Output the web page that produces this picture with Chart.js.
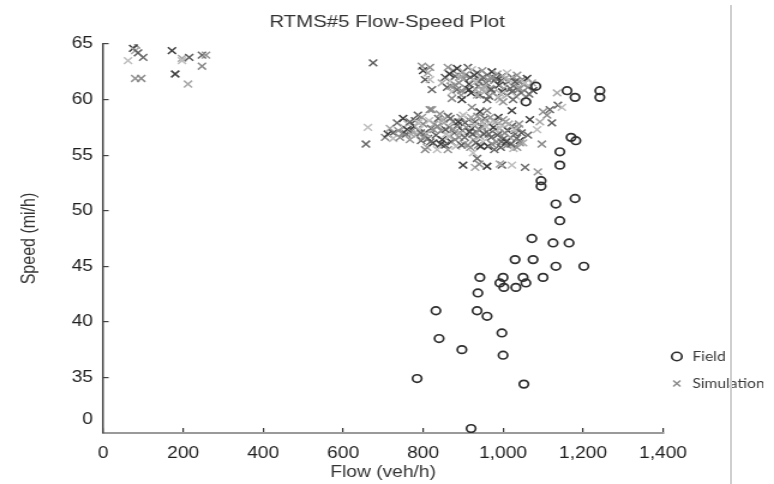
<!DOCTYPE html>
<html lang="en">
<head>
<meta charset="UTF-8">
<title>RTMS#5 Flow-Speed Plot</title>
<script src="https://cdn.jsdelivr.net/npm/chart.js"></script>
<style>
  body { margin: 0; background: #fff; }
  #wrap { position: relative; width: 774px; height: 484px; }
  #edge { position: absolute; left: 730px; top: 5px; width: 2px; height: 479px; background: #cfcfcf; }
</style>
</head>
<body>
<div id="wrap">
  <!-- the original figure is stretched sideways, so the bitmap is drawn narrower and scaled up -->
  <canvas id="flowSpeed" width="645" height="484" style="width:774px;height:484px"></canvas>
  <div id="edge"></div>
</div>
<script>
// [flow veh/h, speed mi/h]
const fieldPoints = [
  [1082,61.2],[1057,59.8],[1160,60.8],[1180,60.2],[1242,60.8],[1242,60.2],[1170,56.6],[1182,56.3],
  [1142,55.3],[1142,54.1],[1095,52.7],[1095,52.2],[1180,51.1],[1132,50.6],[1142,49.1],[1072,47.5],
  [1125,47.1],[1165,47.1],[1030,45.6],[1075,45.6],[1132,45.0],[1202,45.0],[942,44.0],[1000,44.0],
  [1050,44.0],[1100,44.0],[992,43.5],[1002,43.1],[1032,43.1],[1057,43.5],[937,42.6],[832,41.0],
  [935,41.0],[960,40.5],[997,39.0],[840,38.5],[897,37.5],[1000,37.0],[785,34.9],[1052,34.4],[920,30.4]
];

const simPoints = [
  // low flow, free flow
  [82,64.9],[75,64.6],[80,64.4],[87,64.2],[62,63.5],[100,63.8],[80,61.9],[95,61.9],[172,64.4],
  [197,63.7],[215,63.8],[197,63.5],[247,64.0],[257,64.0],[247,63.0],[180,62.3],[212,61.4],
  [675,63.3],[662,57.5],[657,56.0],
  // upper cloud
  [797,63.0],[817,62.9],[800,62.6],[812,62.4],[805,61.8],[817,61.8],[822,60.9],
  [862,62.9],[875,62.6],[885,62.8],[900,62.5],[912,62.9],[922,62.7],[935,62.4],[948,62.6],[960,62.2],
  [972,62.5],[985,62.3],[998,62.1],[1010,62.4],[1022,62.0],[1035,62.2],[1048,61.8],[1060,61.9],[1072,61.5],
  [855,62.0],[868,61.7],[880,62.1],[890,61.5],[902,61.9],[915,61.4],[925,61.8],[938,61.2],[945,61.9],
  [958,61.5],[968,61.0],[978,61.7],[990,61.3],[1002,61.0],[1012,61.6],[1025,61.2],[1038,60.9],[1050,61.4],
  [1062,61.1],[1075,60.8],[847,61.5],[860,61.1],[872,60.7],[885,60.9],[895,60.4],[908,61.0],[920,60.6],
  [932,60.9],[942,60.4],[955,60.8],[965,60.3],[975,60.6],[988,60.2],[998,60.7],[1010,60.4],[1022,60.7],
  [1032,60.3],[1045,60.6],[1058,60.2],[872,60.1],[897,60.0],[935,60.4],[960,60.0],[992,60.0],[1025,60.0],
  [1000,59.8],[880,61.3],[928,62.2],[952,61.2],[982,61.9],[1015,61.8],[940,61.6],[905,62.2],[1040,61.6],
  [866,62.3],[892,62.0],[918,62.0],[932,61.6],[950,62.0],[962,61.8],[975,62.0],[995,61.7],[1005,61.9],
  [1030,61.6],[1055,61.5],[1065,60.5],[870,61.2],[896,60.8],[915,60.9],[948,60.9],[970,60.9],[995,60.5],
  [1018,61.0],[1042,61.0],
  // lower cloud
  [705,56.6],[712,56.9],[717,57.4],[725,57.0],[725,56.5],[735,57.9],[738,57.2],[742,56.6],[750,58.3],
  [752,57.5],[758,56.9],[762,57.8],[767,58.0],[767,56.4],[772,57.2],[778,57.6],[782,56.8],[787,58.6],
  [790,57.3],[795,56.3],[797,58.4],[800,57.8],[805,57.0],[810,55.7],[812,56.5],[815,58.1],[820,57.4],
  [822,59.1],[817,59.1],[825,56.1],[828,57.8],[832,56.8],[835,55.5],[838,58.3],[842,58.7],[845,57.2],
  [848,56.4],[852,57.9],[855,55.9],[858,56.9],[862,58.5],[862,55.5],[866,57.5],[870,56.2],[874,58.0],
  [878,57.0],[882,55.8],[886,57.7],[890,56.6],[894,58.4],[898,57.2],[902,56.0],[905,57.9],[910,56.8],
  [914,58.2],[918,55.7],[922,59.3],[922,57.4],[926,56.4],[930,58.0],[925,55.2],[935,54.7],[934,57.0],
  [938,55.9],[942,58.9],[942,56.7],[946,57.6],[950,56.2],[954,58.3],[958,57.1],[960,59.0],[962,55.8],
  [966,57.8],[970,56.6],[974,58.1],[978,55.5],[980,57.3],[984,56.2],[988,58.4],[990,57.0],[994,55.7],
  [998,57.7],[1002,56.5],[1006,58.0],[1010,55.9],[1012,57.2],[1018,56.6],[1022,57.6],[1026,55.6],
  [1030,56.9],[1035,55.7],[1038,57.4],[1042,56.3],[1050,56.1],[1046,57.0],
  [808,56.9],[818,56.2],[826,57.3],[836,57.6],[844,56.0],[850,58.2],[856,57.3],[864,56.7],[868,58.3],
  [876,57.3],[880,56.4],[888,58.0],[892,57.0],[896,55.9],[900,58.6],[904,56.6],[908,57.5],[912,55.9],
  [916,57.1],[920,58.4],[924,56.9],[928,57.7],[932,56.1],[936,58.5],[940,57.3],[944,55.8],[948,58.0],
  [952,56.9],[956,57.6],[964,56.9],[968,58.4],[972,56.0],[976,57.5],[982,58.0],[986,56.8],[992,57.4],
  [996,56.2],[1000,58.2],[1004,57.0],[1008,56.2],[1014,57.8],[1020,56.0],[1028,57.3],[1034,56.5],
  [1040,57.8],[750,57.0],[760,57.3],[770,56.9],[780,58.1],[788,57.9],[794,57.0],[800,56.6],
  [805,55.5],[900,54.1],[930,53.9],[997,54.1],[1022,54.1],[1055,53.9],[1087,53.5],[940,54.2],[960,54.0],
  // trail towards capacity
  [1135,60.6],[1137,59.5],[1147,59.3],[1117,59.1],[1100,58.9],[1110,58.6],[1067,58.2],[1092,58.0],
  [1122,57.9],[1085,57.3],[1062,56.8],[1042,56.1],[1097,56.0],[1022,59.0],[992,54.2]
];

const xTickValues = [0, 200, 400, 600, 800, 1000, 1200, 1400];
const xTickLabels = ['0', '200', '400', '600', '800', '1,000', '1,200', '1,400'];
const yTickValues = [31.2, 35, 40, 45, 50, 55, 60, 65];
const yTickLabels = ['0', '35', '40', '45', '50', '55', '60', '65'];

const simShades = ['#8a8a8a', '#3e3e3e', '#a8a8a8', '#5c5c5c', '#bdbdbd', '#6a6a6a', '#949494'];
const font = "'Liberation Sans', Arial, sans-serif";

// put the legend low, beside the bottom of the plot
const legendNudge = {
  id: 'legendNudge',
  beforeDraw(chart) {
    const lg = chart.legend;
    if (!lg) return;
    const w = lg.right - lg.left;
    const h = lg.bottom - lg.top;
    lg.left = chart.chartArea.right - 9;
    lg.right = lg.left + w;
    lg.top = 336;
    lg.bottom = lg.top + h;
  }
};

const ctx = document.getElementById('flowSpeed').getContext('2d');
new Chart(ctx, {
  type: 'scatter',
  data: {
    datasets: [
      {
        label: 'Field',
        data: fieldPoints.map(p => ({x: p[0], y: p[1]})),
        pointStyle: 'circle',
        pointRadius: 3.8,
        pointBorderWidth: 1.7,
        pointBorderColor: '#2e2e2e',
        pointBackgroundColor: 'rgba(0,0,0,0)'
      },
      {
        label: 'Simulation',
        data: simPoints.map(p => ({x: p[0], y: p[1]})),
        pointStyle: 'crossRot',
        pointRadius: 4.8,
        pointBorderWidth: 1.5,
        pointBorderColor: c => simShades[c.dataIndex % simShades.length],
        pointBackgroundColor: 'rgba(0,0,0,0)'
      }
    ]
  },
  options: {
    responsive: false,
    animation: false,
    events: [],
    layout: { padding: 0 },
    scales: {
      x: {
        type: 'linear',
        min: 0,
        max: 1400,
        afterBuildTicks: axis => { axis.ticks = xTickValues.map(v => ({value: v})); },
        afterFit: scale => { scale.height = 51; },
        ticks: {
          autoSkip: false,
          maxRotation: 0,
          padding: 16,
          color: '#1e1e1e',
          font: { family: font, size: 16 },
          callback: (v, i) => xTickLabels[i]
        },
        grid: { drawOnChartArea: false, tickLength: -5, color: '#333', lineWidth: 1.2 },
        border: { color: '#9a9a9a', width: 2 },
        title: {
          display: true,
          text: 'Flow (veh/h)',
          color: '#333',
          font: { family: font, size: 16 },
          padding: { top: 0, bottom: 2 }
        }
      },
      y: {
        min: 30,
        max: 65,
        afterBuildTicks: axis => { axis.ticks = yTickValues.map(v => ({value: v})); },
        afterFit: scale => { scale.width = 86; },
        ticks: {
          autoSkip: false,
          padding: 13,
          color: '#1e1e1e',
          font: { family: font, size: 16 },
          callback: (v, i) => yTickLabels[i]
        },
        grid: {
          drawOnChartArea: false,
          tickLength: -4.5,
          lineWidth: 1.2,
          color: c => (c.tick && c.tick.value < 35 ? 'rgba(0,0,0,0)' : '#444')
        },
        border: { color: '#4a4a4a', width: 1.5 },
        title: {
          display: true,
          text: 'Speed (mi/h)',
          color: '#333',
          font: { family: font, size: 16 },
          padding: { top: 15, bottom: 0 }
        }
      }
    },
    plugins: {
      title: {
        display: true,
        text: 'RTMS#5 Flow-Speed Plot',
        color: '#333',
        font: { family: font, size: 17, weight: 'normal' },
        padding: { top: 12, bottom: 11.6 }
      },
      legend: {
        position: 'right',
        align: 'start',
        maxWidth: 92.5,
        labels: {
          usePointStyle: true,
          boxHeight: 6,
          padding: 14,
          color: '#3a3a3a',
          font: { family: "Lato, 'Open Sans', sans-serif", size: 13 }
        }
      },
      tooltip: { enabled: false }
    }
  },
  plugins: [legendNudge]
});
</script>
</body>
</html>
